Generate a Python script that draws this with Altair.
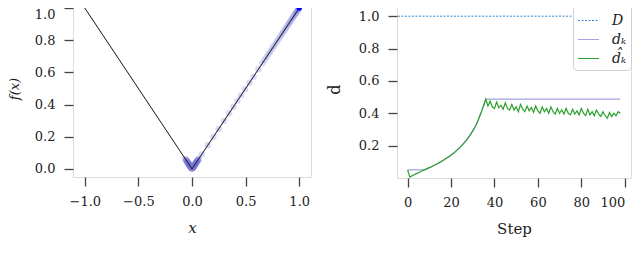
import altair as alt
import pandas as pd

FONT = "DejaVu Serif"

# ---------------- left panel data ----------------
curve_x = [-1.0, 0.0, 1.0]
curve_fx = [1.0, 0.0, 1.0]

start_x = [1.0]
start_fx = [1.0]

iter_x = [
    0.995, 0.990, 0.984, 0.978, 0.971, 0.964, 0.956, 0.948, 0.939, 0.930,
    0.920, 0.910, 0.899, 0.888, 0.876, 0.864, 0.851, 0.838, 0.824, 0.810,
    0.795, 0.780, 0.764, 0.748, 0.731, 0.714, 0.697, 0.679,
    0.657, 0.620, 0.573, 0.536, 0.495, 0.458, 0.424, 0.386, 0.346, 0.299,
    0.249, 0.199, 0.147, 0.090, 0.059,
    0.028, -0.015, 0.045, -0.032, 0.012, -0.058, 0.022, -0.008, 0.052, -0.040,
    0.005, -0.025, 0.035, -0.048, 0.018, -0.003, 0.062, -0.035, 0.010, -0.020,
    0.040, -0.055, 0.025, -0.012, 0.048, -0.028, 0.002, -0.045, 0.032, -0.018,
    0.015, -0.062, 0.038, -0.006, 0.055, -0.030, 0.020, -0.050, 0.008, -0.022,
    0.042, -0.038, 0.016, -0.010, 0.030, -0.044, 0.024, -0.004, 0.050, -0.026,
    0.006, -0.034, 0.036, -0.016, 0.012,
]
iter_fx = [abs(v) for v in iter_x]

# ---------------- right panel data ----------------
steps = list(range(0, 99))
d_hat = [
    0.050, 0.005, 0.013, 0.020, 0.027, 0.033, 0.040, 0.046, 0.052, 0.058,
    0.064, 0.070, 0.077, 0.084, 0.091, 0.098, 0.106, 0.114, 0.123, 0.132,
    0.142, 0.152, 0.163, 0.175, 0.188, 0.202, 0.217, 0.233, 0.251, 0.270,
    0.291, 0.314, 0.341, 0.375, 0.410, 0.448, 0.488,
    0.445, 0.475, 0.440, 0.430, 0.470, 0.435, 0.450, 0.425, 0.465, 0.430,
    0.420, 0.455, 0.420, 0.440, 0.410, 0.455, 0.425, 0.410, 0.445, 0.415,
    0.435, 0.405, 0.445, 0.415, 0.400, 0.440, 0.410, 0.430, 0.400, 0.440,
    0.410, 0.395, 0.430, 0.400, 0.420, 0.395, 0.430, 0.400, 0.390, 0.425,
    0.395, 0.415, 0.390, 0.430, 0.400, 0.385, 0.425, 0.390, 0.410, 0.385,
    0.420, 0.395, 0.380, 0.410, 0.385, 0.370, 0.405, 0.380, 0.400, 0.385,
    0.410, 0.400,
]
d_k = [
    0.050, 0.050, 0.050, 0.050, 0.050, 0.050, 0.050, 0.050, 0.052, 0.058,
    0.064, 0.070, 0.077, 0.084, 0.091, 0.098, 0.106, 0.114, 0.123, 0.132,
    0.142, 0.152, 0.163, 0.175, 0.188, 0.202, 0.217, 0.233, 0.251, 0.270,
    0.291, 0.314, 0.341, 0.375, 0.410, 0.448, 0.488,
] + [0.488] * 62
D_value = [1.0]

series_names = ["D", "d\u2096", "d\u0302\u2096"]
series_colors = ["#2f86d6", "#a3a3e6", "#2ca02c"]

df_curve = pd.DataFrame({"x": curve_x, "fx": curve_fx})
df_iter = pd.DataFrame({"x": iter_x, "fx": iter_fx})
df_start = pd.DataFrame({"x": start_x, "fx": start_fx})

df_lines = pd.concat([
    pd.DataFrame({"step": steps, "d": d_k, "series": series_names[1]}),
    pd.DataFrame({"step": steps, "d": d_hat, "series": series_names[2]}),
])
df_D = pd.DataFrame({"d": D_value, "series": [series_names[0]]})

axis_style = dict(
    labelFont=FONT, labelFontSize=13, labelColor="#222",
    tickColor="#444", tickWidth=1.3, tickSize=9, labelPadding=9,
    labelOverlap=False, domain=False, grid=False, titleFont=FONT,
    titleColor="#222", titleFontWeight="normal",
)

# ---------------- left chart ----------------
xs = alt.Scale(domain=[-1.11, 1.11], nice=False, zero=False)
ys = alt.Scale(domain=[-0.05, 1.05], nice=False, zero=False)
x_axis = alt.Axis(values=[-1.0, -0.5, 0.0, 0.5, 1.0], format=".1f", title="x",
                  titleFontStyle="italic", titleFontSize=15, titlePadding=12, **axis_style)
y_axis = alt.Axis(values=[0.0, 0.2, 0.4, 0.6, 0.8, 1.0], format=".1f", title="f(x)",
                  titleFontStyle="italic", titleFontSize=13, titlePadding=13,
                  labelBaseline=alt.expr("datum.value > 0.99 ? 'top' : 'middle'"),
                  **axis_style)

pts = alt.Chart(df_iter).mark_circle(size=42, color="#7878dc", opacity=0.28).encode(
    x=alt.X("x:Q", scale=xs, axis=x_axis),
    y=alt.Y("fx:Q", scale=ys, axis=y_axis),
)
curve = alt.Chart(df_curve).mark_line(color="#111", strokeWidth=1).encode(
    x=alt.X("x:Q", scale=xs, axis=x_axis), y=alt.Y("fx:Q", scale=ys, axis=y_axis)
)
start = alt.Chart(df_start).mark_circle(size=30, color="#0000ff", opacity=1).encode(
    x=alt.X("x:Q", scale=xs, axis=x_axis), y=alt.Y("fx:Q", scale=ys, axis=y_axis)
)
left = alt.layer(pts, curve, start).properties(width=238, height=177)

# ---------------- right chart ----------------
sx = alt.Scale(domain=[-4.9, 102.9], nice=False, zero=False)
sy = alt.Scale(domain=[0.0, 1.1], nice=False, zero=False)
sx_axis = alt.Axis(values=[0, 20, 40, 60, 80, 100], title="Step", titleFontSize=15,
                   titlePadding=12,
                   labelAlign=alt.expr("datum.value > 99 ? 'right' : 'center'"),
                   **axis_style)
sy_axis = alt.Axis(values=[0.2, 0.4, 0.6, 0.8, 1.0], format=".1f", title="d",
                   titleFontSize=16, titlePadding=16, **axis_style)

color_enc = alt.Color(
    "series:N",
    scale=alt.Scale(domain=series_names, range=series_colors),
    legend=alt.Legend(
        title=None, orient="none", legendX=500, legendY=5, labelFont=FONT,
        labelFontStyle="italic", labelFontSize=14, labelColor="#222",
        symbolType="stroke", symbolSize=441, symbolStrokeWidth=1.2,
        symbolDash=alt.expr("datum.value == 'D' ? [2, 1.5] : [1, 0]"),
        fillColor="white", strokeColor="#d0d0d0", cornerRadius=4,
        padding=4, rowPadding=0, labelOffset=12,
    ),
)

D_rule = alt.Chart(df_D).mark_rule(strokeWidth=1, strokeDash=[2, 1.5]).encode(
    y=alt.Y("d:Q", scale=sy, axis=sy_axis),
    color=color_enc,
)
lines = alt.Chart(df_lines).mark_line(strokeWidth=1.2).encode(
    x=alt.X("step:Q", scale=sx, axis=sx_axis),
    y=alt.Y("d:Q", scale=sy, axis=sy_axis),
    color=color_enc,
    order=alt.Order("step:Q"),
)
right = alt.layer(D_rule, lines).properties(width=234, height=178)

chart = (
    alt.hconcat(left, right, spacing=86, bounds="flush")
    .properties(
        autosize=alt.AutoSizeParams(type="none"),
        padding={"left": 65, "top": -8, "right": 559, "bottom": 250},
    )
    .configure_view(stroke="#444", strokeWidth=1.5)
    .configure(background="white")
)

chart.save("out.html", embed_options={"renderer": "svg", "actions": False})
